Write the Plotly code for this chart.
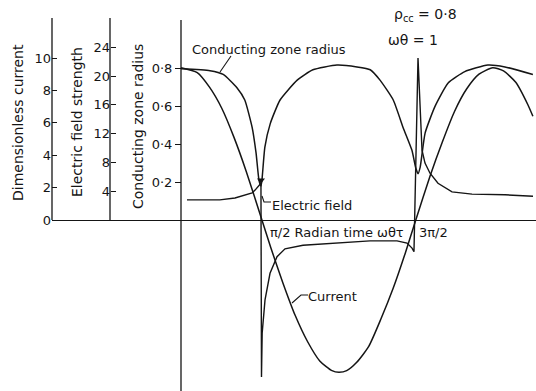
import plotly.graph_objects as go

# ---------------- data ----------------
# radian time  omega*theta*tau
t_current = [-0.08, 0.25, 0.5, 0.75, 1.0, 1.25, 1.57, 1.75, 2.0, 2.25, 2.5, 2.75,
             3.0, 3.14, 3.3, 3.5, 3.75, 4.0, 4.25, 4.5, 4.71, 5.0, 5.25, 5.5,
             5.75, 6.0, 6.28, 6.5, 6.75, 7.0, 7.1]
current = [9.4, 9.1, 8.2, 6.9, 5.1, 3.0, 0.0, -1.7, -3.9, -5.9, -7.5, -8.7,
           -9.3, -9.4, -9.3, -8.8, -7.8, -6.1, -4.2, -2.0, 0.0, 2.7, 4.8, 6.7,
           8.1, 9.0, 9.4, 9.2, 8.5, 7.1, 6.4]

t_radius = [-0.08, 0.51, 0.78, 1.06, 1.22, 1.37, 1.45, 1.51, 1.55, 1.57, 1.63,
            1.74, 1.94, 2.29, 2.61, 3.10, 3.51, 3.78, 3.98, 4.25, 4.45, 4.63,
            4.71, 4.755, 4.80, 4.90, 5.10, 5.37, 5.71, 6.18, 6.53, 7.10]
radius = [0.80, 0.79, 0.77, 0.70, 0.635, 0.49, 0.355, 0.21, 0.18, 0.21, 0.385,
          0.51, 0.635, 0.74, 0.795, 0.82, 0.81, 0.795, 0.74, 0.635, 0.49, 0.37,
          0.275, 0.245, 0.28, 0.46, 0.60, 0.725, 0.785, 0.82, 0.81, 0.77]

t_field = [0.04, 0.71, 1.02, 1.27, 1.37, 1.43, 1.49, 1.55, 1.561, 1.575, 1.633,
           1.735, 1.878, 2.041, 2.408, 3.102, 3.776, 4.327, 4.531, 4.633, 4.673,
           4.755, 4.816, 4.837, 4.898, 5.0, 5.163, 5.449, 5.857, 6.531, 7.102]
field = [2.8, 2.8, 3.05, 3.5, 3.75, 4.15, 4.6, 5.1, -21.8, -15.7, -11.1,
         -7.4, -5.1, -4.0, -3.5, -3.2, -2.9, -2.9, -3.2, -3.9, -4.4,
         22.5, 11.0, 9.7, 7.9, 6.5, 5.1, 3.9, 3.6, 3.5, 3.3]

current_ticks = [0, 2, 4, 6, 8, 10]
field_ticks = [4, 8, 12, 16, 20, 24]
radius_ticks = [0.2, 0.4, 0.6, 0.8]
radius_ticktext = ["0·2", "0·4", "0·6", "0·8"]

# ---------------- layout helpers ----------------
W, H = 536, 391
Y0 = 220           # pixel row of the zero line
X_T0 = 185.0       # pixel column of t = 0
PX_PER_RAD = 49.0
PX_CUR = 16.2      # pixels per current unit
PX_FIELD = 7.2     # pixels per field unit
PX_RAD = 189.0     # pixels per radius unit

def px(x):
    return x / W

def py(y):
    return 1 - y / H

INK = "#151515"
FONT = "DejaVu Sans"
x_left = 52

fig = go.Figure()
fig.add_trace(go.Scatter(x=t_current, y=current, mode="lines", yaxis="y",
                         line=dict(color=INK, width=1.5, shape="spline", smoothing=0.6),
                         showlegend=False, hoverinfo="skip"))
fig.add_trace(go.Scatter(x=t_radius, y=radius, mode="lines", yaxis="y3",
                         line=dict(color=INK, width=1.5, shape="spline", smoothing=0.5),
                         showlegend=False, hoverinfo="skip"))
fig.add_trace(go.Scatter(x=t_field, y=field, mode="lines", yaxis="y2",
                         line=dict(color=INK, width=1.4),
                         showlegend=False, hoverinfo="skip"))
imin = radius.index(min(radius))
fig.add_trace(go.Scatter(x=[t_radius[imin]], y=[radius[imin] + 0.03], mode="markers", yaxis="y3",
                         marker=dict(symbol="triangle-down", size=7, color=INK),
                         showlegend=False, hoverinfo="skip"))

x_range = [(x_left - X_T0) / PX_PER_RAD, (W - X_T0) / PX_PER_RAD]
tick_font = dict(family=FONT, size=13, color=INK)

fig.update_layout(
    width=W, height=H, margin=dict(l=0, r=0, t=0, b=0),
    paper_bgcolor="white", plot_bgcolor="white",
    xaxis=dict(domain=[px(x_left), 1], range=x_range, visible=False),
    yaxis=dict(range=[-(H - Y0) / PX_CUR, Y0 / PX_CUR], tickvals=current_ticks,
               ticks="inside", ticklen=5, tickcolor=INK, showgrid=False,
               zeroline=True, zerolinecolor=INK, zerolinewidth=1.4,
               showline=False, tickfont=tick_font, anchor="x"),
    yaxis2=dict(range=[-(H - Y0) / PX_FIELD, Y0 / PX_FIELD], tickvals=field_ticks,
                ticks="inside", ticklen=5, tickcolor=INK, showgrid=False,
                zeroline=False, showline=False, tickfont=tick_font,
                overlaying="y", anchor="free", position=px(110)),
    yaxis3=dict(range=[-(H - Y0) / PX_RAD, Y0 / PX_RAD], tickvals=radius_ticks,
                ticktext=radius_ticktext, ticks="outside", ticklen=6, tickcolor=INK,
                showgrid=False, zeroline=False, showline=False, tickfont=tick_font,
                overlaying="y", anchor="free", position=px(181)),
)

# axis lines
axis_lines = [(x_left, 18, x_left, Y0), (110, 18, 110, Y0), (181, 20, 181, H)]
for (xa, ya, xb, yb) in axis_lines:
    fig.add_shape(type="line", xref="paper", yref="paper", x0=px(xa), y0=py(ya),
                  x1=px(xb), y1=py(yb), line=dict(color=INK, width=1.3))

# leader lines
leaders = [
    "M {} {} L {} {}".format(px(231), py(56), px(220), py(72)),
    "M {} {} L {} {} L {} {}".format(px(262), py(196), px(264), py(202), px(271), py(202)),
    "M {} {} L {} {} L {} {}".format(px(292), py(303), px(301), py(295), px(308), py(295)),
]
for p in leaders:
    fig.add_shape(type="path", xref="paper", yref="paper", path=p,
                  line=dict(color=INK, width=1.1))

def label(text, x, y, size=13, angle=0, xanchor="left"):
    fig.add_annotation(text=text, x=px(x), y=py(y), xref="paper", yref="paper",
                       showarrow=False, xanchor=xanchor, yanchor="middle",
                       textangle=angle, font=dict(family=FONT, size=size, color=INK))

label("Dimensionless current", 18, 123, size=14, angle=-90, xanchor="center")
label("Electric field strength", 77, 122, size=14, angle=-90, xanchor="center")
label("Conducting zone radius", 138, 127, size=14, angle=-90, xanchor="center")
label("Conducting zone radius", 190, 49)
label("Electric field", 270, 205)
label("π/2 Radian time ωθτ", 268, 232)
label("3π/2", 417, 232)
label("Current", 306, 296)
label("ρ<sub>cc</sub> = 0·8", 392, 15, size=14)
label("ωθ = 1", 386, 40, size=14)

fig.write_html("out.html")
